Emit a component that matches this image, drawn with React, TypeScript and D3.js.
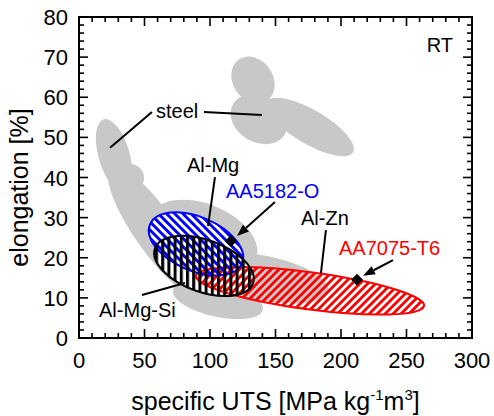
import React from 'react';
import * as d3 from 'd3';

const width = 494;
const height = 416;
const margin = { top: 17, right: 22, bottom: 78, left: 79 };

const xTicks = [0, 50, 100, 150, 200, 250, 300];
const yTicks = [0, 10, 20, 30, 40, 50, 60, 70, 80];

// property fields: major axis ends [x1, y1, x2, y2] and minor/major ratio
const grayFields = [
    [121.9, 69.4, 143.7, 59.2, 0.8],
    [117.6, 58.3, 157.3, 50.8, 0.77],
    [143.4, 58.9, 209.2, 46.3, 0.34],
    [18.9, 54.5, 34.5, 36.7, 0.42],
    [28.2, 39.9, 49.6, 39.9, 1],
    [24.5, 42.5, 92.4, 10.7, 0.27],
    [71.8, 11.9, 140.5, 7.1, 0.37],
    [54.4, 30.5, 135.0, 19.8, 0.58],
    [93.4, 18.3, 190.5, 11.6, 0.34],
];

const alloyNames = ['AA7075-T6', 'AA5182-O', 'Al-Mg-Si'];
const alloyFields = [
    [89.3, 15.5, 263.4, 8.0, 0.161],
    [54.2, 28.3, 124.4, 18.6, 0.54],
    [58.0, 22.3, 132.8, 13.6, 0.5],
];
const alloyColors = ['#ff0000', '#0000ff', '#000000'];
const hatchIds = ['hatch-red', 'hatch-blue', 'hatch-black'];

// the two tested alloys
const markers = [[116.0, 24.2], [212.2, 14.5]];
const arrows = [[149.6, 33.9, 120.6, 25.4], [239.7, 19.4, 216.8, 15.5]];

const leaders = [
    [55.7, 56.3, 23.7, 47.4],
    [95.4, 56.3, 139.7, 55.6],
    [103.8, 40.1, 98.5, 27.9],
    [188.5, 26.9, 184.7, 16.2],
    [48.1, 10.7, 80.9, 13.7],
];

const labels = [
    { text: 'steel', x: 58.8, y: 54.8, color: '#000' },
    { text: 'Al-Mg', x: 82.4, y: 41.4, color: '#000' },
    { text: 'AA5182-O', x: 112.2, y: 34.9, color: '#0000ff' },
    { text: 'Al-Zn', x: 169.5, y: 28.2, color: '#000' },
    { text: 'AA7075-T6', x: 198.5, y: 20.7, color: '#ff0000' },
    { text: 'Al-Mg-Si', x: 15.3, y: 5.2, color: '#000' },
];

const font = '"Liberation Sans", Arial, sans-serif';

const App = () => {
    const x = d3.scaleLinear().domain([0, 300]).range([margin.left, width - margin.right]);
    const y = d3.scaleLinear().domain([0, 80]).range([height - margin.bottom, margin.top]);
    const [x0, x1] = x.range();
    const [y0, y1] = y.range();

    // ellipse as two arcs so the hatch patterns stay in screen orientation
    const ellipse = (f: number[], key: string, fill: string, stroke?: string) => {
        const ax = x(f[0]), ay = y(f[1]), bx = x(f[2]), by = y(f[3]);
        const a = Math.hypot(bx - ax, by - ay) / 2;
        const b = a * f[4];
        const ang = (Math.atan2(by - ay, bx - ax) * 180) / Math.PI;
        const d = `M${ax},${ay}A${a},${b} ${ang} 0 1 ${bx},${by}A${a},${b} ${ang} 0 1 ${ax},${ay}Z`;
        return <path key={key} d={d} fill={fill} stroke={stroke || 'none'} strokeWidth={2} />;
    };

    const minorX = d3.range(0, 301, 10);
    const minorY = d3.range(0, 81, 2);

    return (
        <svg width={width} height={height} style={{ position: 'absolute', left: 0, top: 0, background: '#fff' }}>
            <defs>
                <pattern id="hatch-red" patternUnits="userSpaceOnUse" width={5.6} height={10} patternTransform="rotate(45)">
                    <rect width={2.8} height={10} fill="#ff0000" />
                </pattern>
                <pattern id="hatch-blue" patternUnits="userSpaceOnUse" width={5.8} height={10} patternTransform="rotate(-45)">
                    <rect width={2.9} height={10} fill="#0000ff" />
                </pattern>
                <pattern id="hatch-black" patternUnits="userSpaceOnUse" width={6.2} height={10}>
                    <rect width={3} height={10} fill="#000" />
                </pattern>
            </defs>

            <g>{grayFields.map((f, i) => ellipse(f, 'g' + i, '#c8c8c8'))}</g>
            {/* white backing under the Al-Mg and Al-Mg-Si fields */}
            <g>{alloyFields.slice(1).map((f, i) => ellipse(f, 'w' + i, '#fff'))}</g>
            <g>
                {alloyFields.map((f, i) => ellipse(f, alloyNames[i], `url(#${hatchIds[i]})`, alloyColors[i]))}
            </g>

            {leaders.map((l, i) => (
                <line key={i} x1={x(l[0])} y1={y(l[1])} x2={x(l[2])} y2={y(l[3])} stroke="#000" strokeWidth={2} />
            ))}
            {arrows.map((l, i) => {
                const sx = x(l[0]), sy = y(l[1]), ex = x(l[2]), ey = y(l[3]);
                const ang = Math.atan2(ey - sy, ex - sx);
                const len = 12, half = 4.5;
                const bx = ex - len * Math.cos(ang), by = ey - len * Math.sin(ang);
                const px = -Math.sin(ang) * half, py = Math.cos(ang) * half;
                return (
                    <g key={i}>
                        <line x1={sx} y1={sy} x2={bx} y2={by} stroke="#000" strokeWidth={2} />
                        <path d={`M${ex},${ey}L${bx + px},${by + py}L${bx - px},${by - py}Z`} fill="#000" />
                    </g>
                );
            })}
            {markers.map((m, i) => {
                const cx = x(m[0]), cy = y(m[1]), r = 6;
                return <path key={i} d={`M${cx},${cy - r}L${cx + r},${cy}L${cx},${cy + r}L${cx - r},${cy}Z`} fill="#000" />;
            })}

            {labels.map((l, i) => (
                <text key={i} x={x(l.x)} y={y(l.y)} fill={l.color} fontFamily={font} fontSize={20}>{l.text}</text>
            ))}
            <text x={x(285.5)} y={y(71.3)} textAnchor="end" fontFamily={font} fontSize={20}>RT</text>

            {/* frame and ticks */}
            <rect x={x0} y={y1} width={x1 - x0} height={y0 - y1} fill="none" stroke="#000" strokeWidth={2} />
            <g stroke="#000" strokeWidth={1.6}>
                {minorX.map(v => {
                    const len = v % 50 === 0 ? 9 : 5;
                    return (
                        <g key={v}>
                            <line x1={x(v)} x2={x(v)} y1={y0} y2={y0 - len} />
                            <line x1={x(v)} x2={x(v)} y1={y1} y2={y1 + len} />
                        </g>
                    );
                })}
                {minorY.map(v => {
                    const len = v % 10 === 0 ? 9 : 5;
                    return (
                        <g key={v}>
                            <line y1={y(v)} y2={y(v)} x1={x0} x2={x0 + len} />
                            <line y1={y(v)} y2={y(v)} x1={x1} x2={x1 - len} />
                        </g>
                    );
                })}
            </g>
            {xTicks.map(v => (
                <text key={v} x={x(v)} y={368} textAnchor="middle" fontFamily={font} fontSize={22}>{v}</text>
            ))}
            {yTicks.map(v => (
                <text key={v} x={68} y={y(v) + 8} textAnchor="end" fontFamily={font} fontSize={22}>{v}</text>
            ))}

            <text x={(x0 + x1) / 2} y={410} textAnchor="middle" fontFamily={font} fontSize={25}>
                specific UTS [MPa kg<tspan fontSize={15} dy={-10}>-1</tspan><tspan dy={10}>m</tspan><tspan fontSize={15} dy={-10}>3</tspan><tspan dy={10}>]</tspan>
            </text>
            <text transform={`translate(28, 187.5) rotate(-90)`} textAnchor="middle" fontFamily={font} fontSize={25}>elongation [%]</text>
        </svg>
    );
};

export default App;
